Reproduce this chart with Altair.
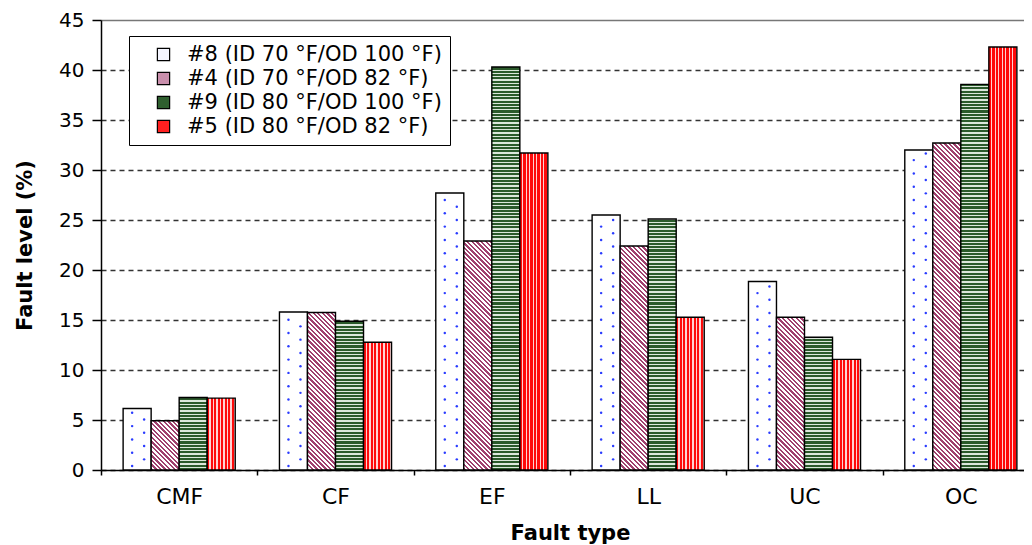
import altair as alt
import pandas as pd

# ---- data ----
categories = ["CMF", "CF", "EF", "LL", "UC", "OC"]
series = [
    "#8 (ID 70 °F/OD 100 °F)",
    "#4 (ID 70 °F/OD 82 °F)",
    "#9 (ID 80 °F/OD 100 °F)",
    "#5 (ID 80 °F/OD 82 °F)",
]
s8 = [6.15, 15.8, 27.7, 25.5, 18.85, 32.0]
s4 = [4.93, 15.75, 22.9, 22.4, 15.27, 32.7]
s9 = [7.25, 14.87, 40.3, 25.1, 13.28, 38.56]
s5 = [7.19, 12.78, 31.7, 15.27, 11.06, 42.3]
y_ticks = [0, 5, 10, 15, 20, 25, 30, 35, 40, 45]

values = [s8, s4, s9, s5]
rows = []
for s, vals in zip(series, values):
    for c, v in zip(categories, vals):
        rows.append({"cat": c, "series": s, "v": v})
df = pd.DataFrame(rows)

# ---- layout constants ----
PLOT_W = 938
PLOT_H = 450
PAD_IN = 0.283
STEP = PLOT_W / len(categories)
BW = STEP * (1 - PAD_IN) / 4.0
PPU = PLOT_H / 45.0
FONT = "DejaVu Sans"


def stripes(c1, c2, frac1, n):
    out = []
    for i in range(n):
        a = i / n
        b = (i + frac1) / n
        e = (i + 1) / n
        out.append("{offset:%.5f,color:'%s'}" % (a, c1))
        out.append("{offset:%.5f,color:'%s'}" % (b, c1))
        out.append("{offset:%.5f,color:'%s'}" % (b, c2))
        out.append("{offset:%.5f,color:'%s'}" % (e, c2))
    return "[" + ",".join(out) + "]"


def stripes_dict(c1, c2, frac1, n):
    out = []
    for i in range(n):
        a = i / n
        b = (i + frac1) / n
        e = (i + 1) / n
        out += [{"offset": a, "color": c1}, {"offset": b, "color": c1},
                {"offset": b, "color": c2}, {"offset": e, "color": c2}]
    return out


LG = 470.0  # px covered by green stripes
green_expr = ("{gradient:'linear',x1:0,y1:1,x2:0,y2:1-%f/datum.hpx,stops:%s}"
              % (LG, stripes("#2b5a2b", "#dce7dc", 0.62, 142)))
LP = 420.0
pink_expr = ("{gradient:'linear',x1:0,y1:1,x2:%f*%f/(%f*%f+datum.hpx*datum.hpx),"
             "y2:1-%f*datum.hpx/(%f*%f+datum.hpx*datum.hpx),stops:%s}"
             % (LP, BW, BW, BW, LP, BW, BW, stripes("#a0406e", "#ffffff", 0.5, 91)))
red_fill = {"gradient": "linear", "x1": 0, "y1": 0, "x2": 1, "y2": 0,
            "stops": stripes_dict("#ff0a0a", "#ffd2d2", 0.62, 8)}

x_scale = alt.Scale(domain=categories, paddingInner=PAD_IN, paddingOuter=PAD_IN / 2)
x_axis = alt.Axis(title="Fault type", labelAngle=0, labelFontSize=22,
                  labelFont=FONT, labelColor="black", tickSize=5,
                  labelPadding=11, tickOffset=-STEP / 2,
                  labelOffset=STEP / 2, tickColor="black", tickWidth=1.5,
                  domainColor="black", domainWidth=1.5,
                  titleFont=FONT, titleFontSize=21, titleFontWeight="bold",
                  titleColor="black", titlePadding=15, grid=False)
x_enc = alt.X("cat:N", scale=x_scale, axis=x_axis)
x_start = alt.X("cat:N", scale=x_scale, axis=x_axis, bandPosition=0)
xo_enc = alt.XOffset("series:N", scale=alt.Scale(domain=series, paddingInner=0,
                                                  paddingOuter=0))
y_scale = alt.Scale(domain=[0, 45], nice=False)
y_enc = alt.Y("v:Q", scale=y_scale,
              axis=alt.Axis(title="Fault level (%)", values=y_ticks, labelFontSize=20,
                            labelFont=FONT, labelColor="black", tickSize=9,
                            labelPadding=8, tickColor="black", tickWidth=1.5,
                            domainColor="black", domainWidth=1.5,
                            titleFont=FONT, titleFontSize=21, titleFontWeight="bold",
                            titleColor="black", titlePadding=23,
                            grid=True, gridWidth=1.5,
                            gridDash={"condition": {"test": "datum.value == 45", "value": []},
                                      "value": [5, 4]},
                            gridColor={"condition": {"test": "datum.value == 45", "value": "#777777"},
                                       "value": "#333333"}))

base = alt.Chart(df)

legend_layer = base.mark_bar().encode(
    x=x_enc, xOffset=xo_enc, y=y_enc,
    color=alt.Color("series:N",
                    scale=alt.Scale(domain=series,
                                    range=["#f4f5ff", "#c98fac", "#2f5f2f", "#ff2020"]),
                    legend=alt.Legend(title=None, orient="none", legendX=28, legendY=16,
                                      labelFont=FONT, labelFontSize=21, labelColor="black",
                                      symbolType="square", symbolSize=150,
                                      symbolStrokeColor="black", symbolStrokeWidth=1.2,
                                      symbolOffset=16, labelOffset=13, rowPadding=2,
                                      padding=8, strokeColor="black", fillColor="white",
                                      labelLimit=400)),
)

stroke = dict(stroke="black", strokeWidth=1.4)

white_layer = base.transform_filter(alt.datum.series == series[0]).mark_bar(
    fill="white", **stroke).encode(x=x_enc, xOffset=xo_enc, y=y_enc)

pink_layer = base.transform_filter(alt.datum.series == series[1]).transform_calculate(
    hpx="datum.v*%f" % PPU).transform_calculate(grad=pink_expr).mark_bar(**stroke).encode(
    x=x_enc, xOffset=xo_enc, y=y_enc, fill=alt.Fill("grad:N", scale=None, legend=None))

green_layer = base.transform_filter(alt.datum.series == series[2]).transform_calculate(
    hpx="datum.v*%f" % PPU).transform_calculate(grad=green_expr).mark_bar(**stroke).encode(
    x=x_enc, xOffset=xo_enc, y=y_enc, fill=alt.Fill("grad:N", scale=None, legend=None))

red_layer = base.transform_filter(alt.datum.series == series[3]).mark_bar(
    fill=red_fill, **stroke).encode(x=x_enc, xOffset=xo_enc, y=y_enc)


def dot_layer(start, px):
    return base.transform_filter(alt.datum.series == series[0]).transform_calculate(
        d="sequence(%f, datum.v - 0.25, 1.33)" % start).transform_flatten(["d"]).mark_circle(
        color="#2a3cff", size=6, opacity=1, xOffset=px).encode(
        x=x_start, y=alt.Y("d:Q", scale=y_scale))


dots_a = dot_layer(0.4, BW / 2 - 5)
dots_b = dot_layer(1.065, BW / 2 + 7)

chart = alt.layer(legend_layer, white_layer, dots_a, dots_b, pink_layer, green_layer,
                  red_layer).properties(
    width=PLOT_W, height=PLOT_H,
    autosize=alt.AutoSizeParams(type="none"),
    padding={"left": 93, "top": 12, "right": -15, "bottom": 75},
).configure_view(stroke=None).configure(background="white")

chart.save("out.html", embed_options={"renderer": "svg", "actions": False})
